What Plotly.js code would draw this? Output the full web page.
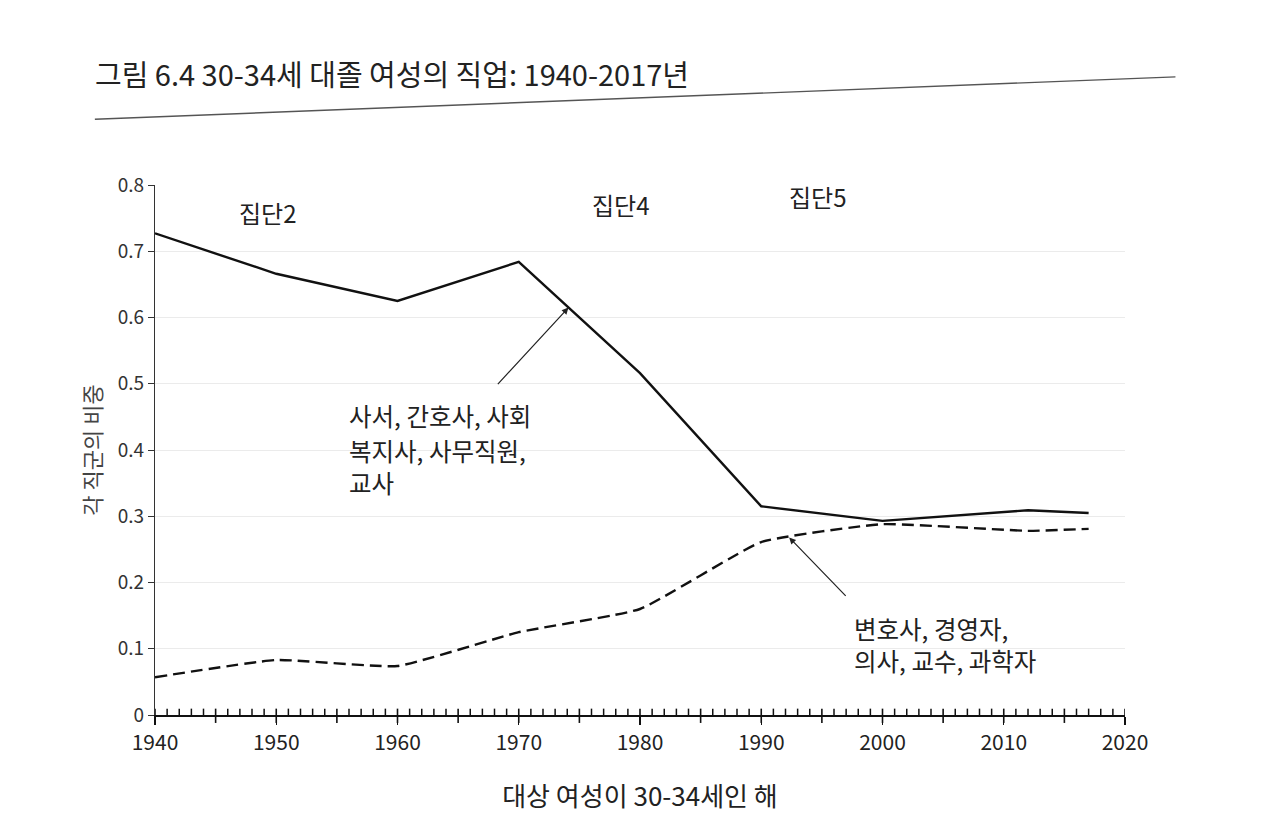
<!DOCTYPE html>
<html>
<head>
<meta charset="utf-8">
<script src="https://cdn.plot.ly/plotly-3.0.1.min.js"></script>
<style>
  body { margin: 0; background: #fff; }
  #graphDiv { width: 1280px; height: 831px; }
</style>
</head>
<body>
<div id="graphDiv"></div>
<script>
// years the series were read at
var years = [1940, 1950, 1960, 1970, 1980, 1990, 2000, 2012, 2017];
// librarians, nurses, social workers, clerks, teachers
var groupLow = [0.727, 0.666, 0.625, 0.684, 0.516, 0.315, 0.293, 0.309, 0.305];
// lawyers, managers, doctors, professors, scientists
var groupHigh = [0.057, 0.083, 0.074, 0.125, 0.160, 0.261, 0.288, 0.278, 0.281];

var labelYears = [1940, 1950, 1960, 1970, 1980, 1990, 2000, 2010, 2020];

var cohortLabels = ['집단2', '집단4', '집단5'];
var cohortX = [1949.3, 1978.4, 1994.6];
var cohortY = [0.759, 0.771, 0.782];

var noteLowLines = ['사서, 간호사, 사회', '복지사, 사무직원,', '교사'];
var noteLowY = [0.452, 0.400, 0.351];
var noteHighLines = ['변호사, 경영자,', '의사, 교수, 과학자'];
var noteHighY = [0.131, 0.082];

var FONT = '"Noto Sans CJK KR", "Noto Sans", sans-serif';

function initGraph()
{
  var trace1 = {
    x: years,
    y: groupLow,
    mode: 'lines',
    name: '사서, 간호사, 사회복지사, 사무직원, 교사',
    line: {color: '#111', width: 2.4},
    type: 'scatter'
  };

  var trace2 = {
    x: years,
    y: groupHigh,
    mode: 'lines',
    name: '변호사, 경영자, 의사, 교수, 과학자',
    line: {color: '#111', width: 2.4, dash: '12px,6px', shape: 'spline', smoothing: 0.4},
    type: 'scatter'
  };

  var data = [trace1, trace2];

  var annotations = [];
  for (var i = 0; i < cohortLabels.length; i++) {
    annotations.push({
      x: cohortX[i], y: cohortY[i], xref: 'x', yref: 'y',
      text: cohortLabels[i], showarrow: false,
      font: {family: FONT, size: 24, color: '#222'}
    });
  }

  // arrows
  annotations.push({
    x: 1974.1, y: 0.615, xref: 'x', yref: 'y',
    ax: -72, ay: 78, text: '', showarrow: true,
    arrowhead: 2, arrowsize: 1.1, arrowwidth: 1.2, arrowcolor: '#222'
  });
  annotations.push({
    x: 1992.3, y: 0.268, xref: 'x', yref: 'y',
    ax: 58, ay: 60, text: '', showarrow: true,
    arrowhead: 2, arrowsize: 1.1, arrowwidth: 1.2, arrowcolor: '#222'
  });

  // labels, one annotation per line so the spacing matches
  for (var j = 0; j < noteLowLines.length; j++) {
    annotations.push({
      x: 1955.9, y: noteLowY[j], xref: 'x', yref: 'y',
      xanchor: 'left', yanchor: 'middle', borderpad: 0,
      text: noteLowLines[j], showarrow: false,
      font: {family: FONT, size: 24.5, color: '#222'}
    });
  }
  for (var k = 0; k < noteHighLines.length; k++) {
    annotations.push({
      x: 1997.6, y: noteHighY[k], xref: 'x', yref: 'y',
      xanchor: 'left', yanchor: 'middle', borderpad: 0,
      text: noteHighLines[k], showarrow: false,
      font: {family: FONT, size: 24.5, color: '#222'}
    });
  }

  // axis tick marks: every year short and inside, every 5 years crossing the line
  var tickShapes = [];
  for (var yr = 1940; yr <= 2020; yr++) {
    var major = (yr % 5 === 0);
    tickShapes.push({
      type: 'line', xref: 'x', yref: 'paper', layer: 'above',
      x0: yr, x1: yr,
      y0: major ? -0.015 : 0,
      y1: major ? 0.012 : 0.012,
      line: {color: '#111', width: major ? 1.6 : 1.5}
    });
  }

  var shapes = [{
    type: 'line', xref: 'paper', yref: 'paper',
    x0: -0.062, y0: 1.124, x1: 1.052, y1: 1.204,
    line: {color: '#555', width: 1.4}
  }].concat(tickShapes);

  var layout = {
    width: 1280,
    height: 831,
    paper_bgcolor: '#fff',
    plot_bgcolor: '#fff',
    showlegend: false,
    margin: {l: 155, r: 155, t: 185, b: 116},
    font: {family: FONT, color: '#222'},
    title: {
      text: '그림 6.4 30-34세 대졸 여성의 직업: 1940-2017년',
      x: 95 / 1280, xanchor: 'left',
      y: 1 - 76 / 831, yanchor: 'middle',
      font: {family: FONT, size: 29, color: '#222'}
    },
    xaxis: {
      range: [1940, 2020],
      tickvals: labelYears,
      ticks: 'outside',
      ticklen: 8,
      tickwidth: 1.4,
      tickcolor: '#111',
      showline: true,
      linecolor: '#111',
      linewidth: 1.6,
      showgrid: false,
      zeroline: false,
      tickfont: {family: FONT, size: 21, color: '#222'},
      title: {
        text: '대상 여성이 30-34세인 해',
        font: {family: FONT, size: 26, color: '#222'},
        standoff: 33
      }
    },
    yaxis: {
      range: [0, 0.8],
      dtick: 0.1,
      ticks: 'outside',
      ticklen: 6,
      tickcolor: '#333',
      showline: true,
      linecolor: '#333',
      linewidth: 1.2,
      showgrid: true,
      gridcolor: '#ebebeb',
      gridwidth: 1,
      zeroline: false,
      tickfont: {family: FONT, size: 19, color: '#333'},
      title: {
        text: '각 직군의 비중',
        font: {family: FONT, size: 22, color: '#444'},
        standoff: 10
      }
    },
    shapes: shapes,
    annotations: annotations
  };

  Plotly.newPlot('graphDiv', data, layout, {displayModeBar: false, staticPlot: true});
}

initGraph();
</script>
</body>
</html>
